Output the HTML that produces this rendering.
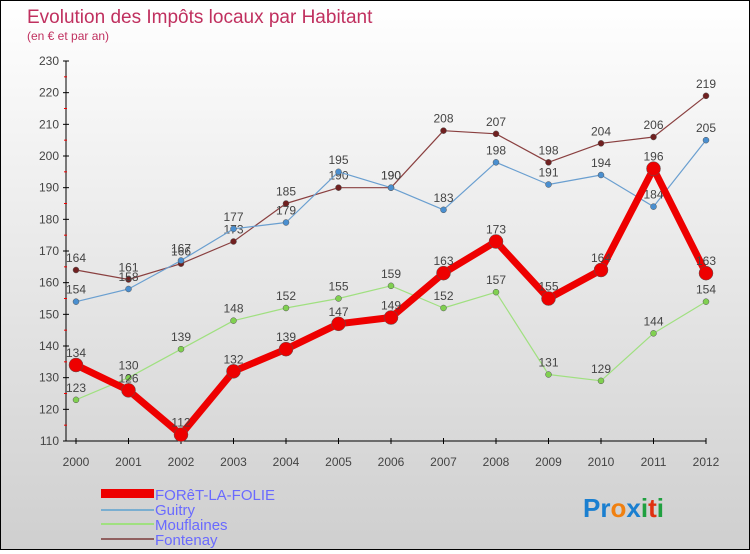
<!DOCTYPE html>
<html><head><meta charset="utf-8"><style>
body{margin:0;width:750px;height:550px;overflow:hidden;font-family:"Liberation Sans",sans-serif}
#wrap{position:relative;width:748px;height:548px;border:1px solid #000;background:linear-gradient(#ffffff,#cfcfcf)}
</style></head><body>
<div id="wrap">
<svg id="chart" width="748" height="548">
<text x="26" y="22" font-size="19" fill="#c0305f">Evolution des Impôts locaux par Habitant</text>
<text x="26" y="39" font-size="12" fill="#c0305f">(en € et par an)</text>
<g id="axes"></g><g id="series"></g>
<g>
<rect x="100" y="488" width="53" height="9" fill="#e00"/>
<text x="154" y="499" font-size="15" fill="#6a6aff">FORêT-LA-FOLIE</text>
<rect x="100" y="508" width="53" height="2" fill="#7aaed0"/>
<text x="154" y="514" font-size="15" fill="#6a6aff">Guitry</text>
<rect x="100" y="522" width="53" height="2" fill="#a0e080"/>
<text x="154" y="529" font-size="15" fill="#6a6aff">Mouflaines</text>
<rect x="100" y="537" width="53" height="2" fill="#906060"/>
<text x="154" y="544" font-size="15" fill="#6a6aff">Fontenay</text>
</g>
<text x="582" y="516" font-size="26" font-weight="bold"><tspan fill="#1a7fd0">Pr</tspan><tspan fill="#f08010">o</tspan><tspan fill="#1a7fd0">x</tspan><tspan fill="#20a040">i</tspan><tspan fill="#e03010">t</tspan><tspan fill="#20a040">i</tspan></text>
</svg></div>
<script>
const years=[2000,2001,2002,2003,2004,2005,2006,2007,2008,2009,2010,2011,2012];
const yTicks=[110,120,130,140,150,160,170,180,190,200,210,220,230];
const foret=[134,126,112,132,139,147,149,163,173,155,164,196,163];
const guitry=[154,158,167,177,179,195,190,183,198,191,194,184,205];
const mouflaines=[123,130,139,148,152,155,159,152,157,131,129,144,154];
const fontenay=[164,161,166,173,185,190,190,208,207,198,204,206,219];
const NS="http://www.w3.org/2000/svg";
const x=i=>75+i*52.5;
const y=v=>440-(v-110)*380/120;
function mk(t,a,p){const e=document.createElementNS(NS,t);for(const k in a)e.setAttribute(k,a[k]);p.appendChild(e);return e;}
const ax=document.getElementById('axes');
let l=mk('line',{x1:65,y1:y(230),x2:65,y2:440,stroke:'#000'},ax);


l=mk('line',{x1:65,y1:440,x2:x(12),y2:440,stroke:'#000'},ax);


yTicks.forEach(v=>{
 mk('line',{x1:62,y1:y(v),x2:68,y2:y(v),stroke:'#000'},ax);
 if(v<230)mk('line',{x1:63,y1:y(v+5),x2:66,y2:y(v+5),stroke:'#e00'},ax);
 const t=mk('text',{x:58,y:y(v)+4,'font-size':12,fill:'#444','text-anchor':'end'},ax);t.textContent=v;
 
 
});
years.forEach((yr,i)=>{
 mk('line',{x1:x(i),y1:437,x2:x(i),y2:443,stroke:'#000'},ax);
 const t=mk('text',{x:x(i),y:465,'font-size':12,fill:'#444','text-anchor':'middle'},ax);t.textContent=yr;
 
 
});
const sg=document.getElementById('series');
function draw(data,color,w,r,name,dot){
 const g=mk('g',{},sg);
 
 
 mk('polyline',{points:data.map((v,i)=>x(i)+','+y(v)).join(' '),fill:'none',stroke:color,'stroke-width':w,'stroke-linejoin':'round'},g);
 data.forEach((v,i)=>{
  const c=mk('circle',{cx:x(i),cy:y(v),r:r,fill:dot,stroke:'#555','stroke-width':0.5},g);
  
  
  const t=mk('text',{x:x(i),y:y(v)-8,'font-size':12,fill:'#444','text-anchor':'middle'},g);t.textContent=v;
 });
}
draw(fontenay,'#8a4040',1.2,3,'fontenay','#702020');
draw(guitry,'#6a9fd0',1.2,3,'guitry','#4a8fd0');
draw(mouflaines,'#a0e080',1.2,3,'mouflaines','#80d050');
draw(foret,'#ee0000',7,7,'foret','#ee0000');
</script>
</body></html>
